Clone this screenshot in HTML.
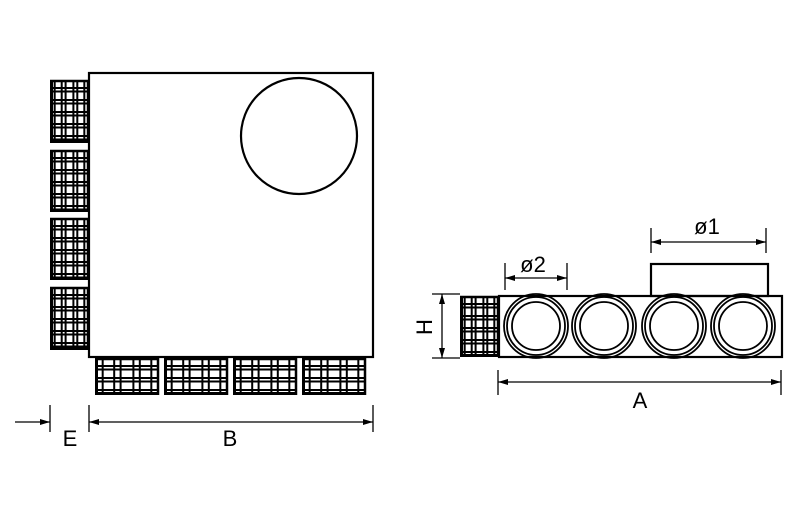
<!DOCTYPE html>
<html><head><style>body{margin:0;background:#fff}svg{display:block}text{font-family:"Liberation Sans",sans-serif;fill:#000}</style></head>
<body>
<svg id="s" width="800" height="505" viewBox="0 0 800 505">
<defs>
<marker id="ar" viewBox="0 0 10 10" refX="10" refY="5" markerWidth="14" markerHeight="10" markerUnits="userSpaceOnUse" orient="auto-start-reverse"><path d="M0,2 L10,5 L0,8 z" fill="#000"/></marker>
</defs>
<g stroke="#000" fill="none">
<rect x="89" y="73" width="284" height="284" stroke-width="2.2"/>
<circle cx="299" cy="136" r="58" stroke-width="2.2"/>
<rect x="499" y="296" width="283" height="61" stroke-width="2.2"/>
<rect x="651" y="264" width="117" height="32" stroke-width="2.2"/>
</g>
<g id="circ" stroke="#000" fill="none" stroke-width="1.8"></g>
<g id="mesh" stroke="#000" stroke-width="2"></g>
<g stroke="#000" stroke-width="1.3" fill="none">
<line x1="50" y1="405" x2="50" y2="432"/><line x1="89" y1="405" x2="89" y2="432"/><line x1="373" y1="405" x2="373" y2="432"/>
<line x1="15" y1="422" x2="50" y2="422" marker-end="url(#ar)"/>
<line x1="89" y1="422" x2="373" y2="422" marker-start="url(#ar)" marker-end="url(#ar)"/>
<line x1="432" y1="294" x2="460" y2="294"/><line x1="432" y1="358" x2="460" y2="358"/>
<line x1="442" y1="294" x2="442" y2="358" marker-start="url(#ar)" marker-end="url(#ar)"/>
<line x1="505" y1="263" x2="505" y2="290"/><line x1="567" y1="263" x2="567" y2="290"/>
<line x1="505" y1="278" x2="567" y2="278" marker-start="url(#ar)" marker-end="url(#ar)"/>
<line x1="651" y1="228" x2="651" y2="253"/><line x1="766" y1="228" x2="766" y2="253"/>
<line x1="651" y1="242" x2="766" y2="242" marker-start="url(#ar)" marker-end="url(#ar)"/>
<line x1="498" y1="370" x2="498" y2="395"/><line x1="781" y1="370" x2="781" y2="395"/>
<line x1="498" y1="382" x2="781" y2="382" marker-start="url(#ar)" marker-end="url(#ar)"/>
</g>
<g font-size="22" text-anchor="middle">
<text x="70" y="446">E</text>
<text x="230" y="446">B</text>
<text x="640" y="408">A</text>
<text x="533" y="272">ø2</text>
<text x="707" y="234">ø1</text>
<text transform="translate(432,327) rotate(-90)">H</text>
</g>
</svg>
<script>
var ns="http://www.w3.org/2000/svg";
function ln(g,x1,y1,x2,y2,w){var l=document.createElementNS(ns,"line");l.setAttribute("x1",x1);l.setAttribute("y1",y1);l.setAttribute("x2",x2);l.setAttribute("y2",y2);if(w)l.setAttribute("stroke-width",w);g.appendChild(l);}
var m=document.getElementById("mesh");
function mesh(x,y,w,h){
 ln(m,x+1.5,y,x+1.5,y+h,3);ln(m,x+w-1,y,x+w-1,y+h,2.5);ln(m,x,y+1,x+w,y+1,2.5);ln(m,x,y+h-1.5,x+w,y+h-1.5,3);
 var vx=[0.12,0.3,0.4,0.6,0.7,0.88];vx.forEach(function(f){ln(m,x+w*f,y,x+w*f,y+h);});
 for(var yy=y+8;yy<y+h-4;yy+=12){ln(m,x,yy,x+w,yy);ln(m,x,yy+3.5,x+w,yy+3.5);}
}
[[80,63],[150,62],[218,62],[287,63]].forEach(function(a){mesh(50,a[0],39,a[1]);});
[95,164,233,302].forEach(function(x){mesh(x,358,64,37);});
mesh(460,296,39,61);
var c=document.getElementById("circ");
[536,604,674,743].forEach(function(x){[32,29,24].forEach(function(r){var e=document.createElementNS(ns,"circle");e.setAttribute("cx",x);e.setAttribute("cy",326);e.setAttribute("r",r);c.appendChild(e);});});
</script>
</body></html>
